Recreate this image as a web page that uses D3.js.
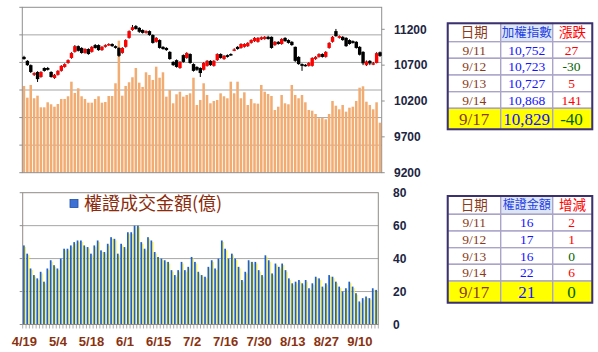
<!DOCTYPE html>
<html>
<head>
<meta charset="utf-8">
<script src="https://cdn.jsdelivr.net/npm/d3@7"></script>
<style>
  body { margin: 0; background: #fff; }
  svg { display: block; }
</style>
</head>
<body>
<div id="chart"></div>
<script>
// trading days 4/19 - 9/17
var dates = ["4/19","4/20","4/23","4/24","4/25","4/26","4/27","4/30",
  "5/2","5/3","5/4","5/7","5/8","5/9","5/10","5/11","5/14","5/15","5/16","5/17","5/18",
  "5/21","5/22","5/23","5/24","5/25","5/28","5/29","5/30","5/31",
  "6/1","6/4","6/5","6/6","6/7","6/8","6/11","6/12","6/13","6/14","6/15",
  "6/19","6/20","6/21","6/22","6/25","6/26","6/27","6/28","6/29",
  "7/2","7/3","7/4","7/5","7/6","7/9","7/10","7/11","7/12","7/13","7/16",
  "7/17","7/18","7/19","7/20","7/23","7/24","7/25","7/26","7/27","7/30","7/31",
  "8/1","8/2","8/3","8/6","8/7","8/8","8/9","8/10","8/13","8/14","8/15","8/16","8/17",
  "8/20","8/21","8/22","8/23","8/24","8/27","8/28","8/29","8/30","8/31",
  "9/3","9/4","9/5","9/6","9/7","9/10","9/11","9/12","9/13","9/14","9/17"];

// index candles
var openP = [10815,10760,10700,10565,10605,10535,10660,10660,10605,10520,
  10565,10620,10675,10730,10800,10885,10965,10940,10870,10925,
  10885,10980,10980,10910,10955,10980,10995,10965,10940,10870,
  10955,11080,11190,11245,11220,11190,11150,11175,11120,11025,
  11050,10955,10940,10885,10745,10770,10660,10840,10800,10855,
  10715,10675,10660,10635,10690,10760,10690,10770,10855,10785,
  10840,10855,10910,10955,10940,10955,10965,11010,11035,11025,
  11060,11065,11095,11095,10980,11025,10995,11080,11050,11025,
  10955,10815,10715,10705,10690,10690,10785,10815,10855,10815,
  10940,11025,11175,11080,11095,11080,11050,11035,11025,10955,
  10885,10700,10760,10720,10730,10880];
var closeP = [10785,10700,10605,10590,10505,10605,10620,10635,10535,10565,
  10620,10690,10715,10770,10870,10965,10900,10870,10925,10855,
  10955,10940,10910,10955,10980,10995,10965,10940,10830,10940,
  11050,11175,11230,11205,11165,11150,11175,11120,11010,11080,
  10940,10925,10910,10785,10700,10675,10745,10745,10870,10730,
  10620,10635,10590,10730,10760,10700,10760,10855,10800,10830,
  10815,10840,10920,10925,10995,10995,11010,11050,11080,11080,
  11090,11095,11065,10940,11025,10995,11065,11035,11010,10980,
  10760,10715,10690,10690,10730,10800,10815,10855,10815,10885,
  11010,11095,11105,11105,11050,10965,10995,11010,10940,10845,
  10725,10752,10723,10727,10868,10829];
var highP = [10830,10770,10710,10600,10615,10615,10670,10675,10615,10575,
  10630,10700,10725,10780,10880,10980,10975,10950,10935,10935,
  10965,10995,10990,10965,10990,11005,11005,10975,10950,10950,
  11060,11185,11260,11260,11230,11200,11185,11185,11130,11090,
  11060,10965,10950,10895,10755,10780,10755,10850,10880,10865,
  10725,10685,10670,10740,10770,10770,10770,10865,10865,10840,
  10850,10865,10935,10965,11005,11005,11020,11060,11090,11090,
  11100,11105,11110,11100,11035,11035,11075,11090,11060,11035,
  10960,10825,10725,10715,10740,10810,10825,10865,10865,10895,
  11020,11105,11205,11115,11105,11090,11060,11045,11035,10965,
  10895,10765,10770,10745,10880,10890];
var lowP = [10775,10690,10590,10550,10465,10525,10610,10625,10525,10510,
  10555,10610,10665,10720,10790,10875,10890,10860,10860,10845,
  10875,10930,10900,10900,10945,10970,10955,10930,10815,10860,
  10945,11070,11180,11195,11150,11140,11140,11110,11000,11015,
  10930,10915,10900,10775,10690,10665,10650,10735,10790,10720,
  10610,10620,10535,10625,10680,10690,10680,10760,10790,10775,
  10805,10830,10895,10915,10930,10945,10955,11000,11025,11015,
  11050,11055,11055,10930,10970,10985,10985,11025,11000,10970,
  10745,10705,10620,10680,10680,10680,10775,10805,10805,10805,
  10930,11015,11095,11070,11040,10955,10985,11000,10930,10835,
  10700,10690,10700,10700,10725,10815];

// market turnover (億)
var volume = [1573,1361,1591,1350,1397,1186,1186,1277,1241,1197,
  1246,1337,1337,1386,1651,1446,1531,1386,1337,1270,
  1270,1337,1386,1270,1282,1391,1391,1622,2395,1397,
  1573,1640,1731,1899,1633,1555,1821,1772,1682,1923,
  1723,1821,1379,1500,1259,1422,1469,1379,1409,1440,
  1723,1228,1319,1622,1409,1259,1301,1319,1440,1386,
  1350,1651,1440,1651,1350,1458,1228,1337,1259,1252,
  1591,1469,1428,1391,1137,1197,1409,1259,1241,1591,
  1409,1350,1409,1277,1137,1125,1065,987,998,969,
  1065,1301,1215,1150,1228,1107,1179,1197,1301,1542,
  1567,1288,1228,1150,1277,907];

// warrant turnover (億)
var warrant = [48,43,34,30,28,32,26,34,39,36,
  34,40,46,46,48,50,51,51,48,47,
  43,48,51,45,44,49,53,52,43,49,
  47,56,56,60,60,50,46,53,51,44,
  41,40,39,38,33,30,33,38,33,35,
  41,38,32,30,29,35,39,34,40,51,
  46,40,43,40,35,27,32,39,38,38,
  33,30,42,39,31,37,35,37,33,28,
  25,26,27,25,27,22,25,29,28,23,
  25,30,29,26,23,20,22,26,23,19,
  14,16,17,16,22,21];

var priceTicks = [9200, 9700, 10200, 10700, 11200];
var volTicks = [0, 500, 1000, 1500, 2000, 2500, 3000];
var warrantTicks = [0, 20, 40, 60, 80];

// tables
var tblDates = ["9/11", "9/12", "9/13", "9/14", "9/17"];
var tblIndex = ["10,752", "10,723", "10,727", "10,868", "10,829"];
var tblIndexChg = [27, -30, 5, 141, -40];
var tblWarrant = [16, 17, 16, 22, 21];
var tblWarrantChg = [2, 1, 0, 6, 0];

var svg = d3.select("#chart").append("svg")
    .attr("width", 598)
    .attr("height", 352);

var axisFont = "'Liberation Sans', Arial, sans-serif";
var gridColor = "#a6a6a6";

// ---------- top panel ----------
var p1 = {left: 22.3, right: 381.7, top: 7.3, bottom: 172.7};
var x1 = d3.scaleBand().domain(d3.range(dates.length)).range([p1.left, p1.right]);
var yV = d3.scaleLinear().domain([0, 3000]).range([p1.bottom, p1.top]);
var yP = d3.scaleLinear().domain([9200, 11200]).range([p1.bottom, 29.3]);

svg.append("g").selectAll("line")
    .data(volTicks.slice(1, -1))
    .enter().append("line")
    .attr("x1", p1.left).attr("x2", p1.right)
    .attr("y1", function(d) { return yV(d); })
    .attr("y2", function(d) { return yV(d); })
    .attr("stroke", gridColor).attr("stroke-width", 1);

// volume bars
svg.append("g").selectAll("rect")
    .data(volume)
    .enter().append("rect")
    .attr("x", function(d, i) { return x1(i) + 0.4; })
    .attr("width", 2.5)
    .attr("y", function(d) { return yV(d); })
    .attr("height", function(d) { return p1.bottom - yV(d); })
    .attr("fill", "#f2ab70");

// frame
svg.append("rect")
    .attr("x", p1.left).attr("y", p1.top)
    .attr("width", p1.right - p1.left).attr("height", p1.bottom - p1.top)
    .attr("fill", "none").attr("stroke", "#8f8f8f").attr("stroke-width", 1);

// left ticks
svg.append("g").selectAll("line")
    .data(volTicks)
    .enter().append("line")
    .attr("x1", p1.left - 3).attr("x2", p1.left)
    .attr("y1", function(d) { return yV(d); })
    .attr("y2", function(d) { return yV(d); })
    .attr("stroke", "#8f8f8f");

// candles
var candle = svg.append("g").selectAll("g")
    .data(d3.range(dates.length))
    .enter().append("g");
candle.append("line")
    .attr("x1", function(i) { return x1(i) + 1.7; })
    .attr("x2", function(i) { return x1(i) + 1.7; })
    .attr("y1", function(i) { return yP(highP[i]); })
    .attr("y2", function(i) { return yP(lowP[i]); })
    .attr("stroke", "#000").attr("stroke-width", 1);
candle.append("rect")
    .attr("x", function(i) { return x1(i); })
    .attr("width", 3.4)
    .attr("y", function(i) { return yP(Math.max(openP[i], closeP[i])); })
    .attr("height", function(i) { return Math.max(1.5, Math.abs(yP(openP[i]) - yP(closeP[i]))); })
    .attr("fill", function(i) { return closeP[i] >= openP[i] ? "#ff0000" : "#000000"; });

// right price axis
svg.append("g").selectAll("line")
    .data(priceTicks)
    .enter().append("line")
    .attr("x1", p1.right).attr("x2", p1.right + 3)
    .attr("y1", function(d) { return yP(d); })
    .attr("y2", function(d) { return yP(d); })
    .attr("stroke", "#8f8f8f");
svg.append("g").selectAll("text")
    .data(priceTicks)
    .enter().append("text")
    .attr("x", 394)
    .attr("y", function(d) { return yP(d); })
    .attr("dy", "0.36em")
    .attr("font-family", axisFont).attr("font-weight", "bold").attr("font-size", 12)
    .attr("fill", "#1c2541")
    .text(function(d) { return d; });

// ---------- bottom panel ----------
var p2 = {left: 22.7, right: 378.3, top: 192.7, bottom: 324.5};
var x2 = d3.scaleBand().domain(d3.range(dates.length)).range([p2.left, p2.right]);
var yW = d3.scaleLinear().domain([0, 80]).range([p2.bottom, p2.top]);

svg.append("g").selectAll("line")
    .data(warrantTicks.slice(1, -1))
    .enter().append("line")
    .attr("x1", p2.left).attr("x2", p2.right)
    .attr("y1", function(d) { return yW(d); })
    .attr("y2", function(d) { return yW(d); })
    .attr("stroke", gridColor).attr("stroke-width", 1);

// yellow shade then blue bar
svg.append("g").selectAll("rect")
    .data(warrant)
    .enter().append("rect")
    .attr("x", function(d, i) { return x2(i) + 2.0; })
    .attr("width", 1.3)
    .attr("y", function(d) { return yW(d) + 1.5; })
    .attr("height", function(d) { return p2.bottom - yW(d) - 1.5; })
    .attr("fill", "#fff24a");
svg.append("g").selectAll("rect")
    .data(warrant)
    .enter().append("rect")
    .attr("x", function(d, i) { return x2(i) + 0.3; })
    .attr("width", 1.7)
    .attr("y", function(d) { return yW(d); })
    .attr("height", function(d) { return p2.bottom - yW(d); })
    .attr("fill", "#1f5fc8");

svg.append("rect")
    .attr("x", p2.left).attr("y", p2.top)
    .attr("width", p2.right - p2.left).attr("height", p2.bottom - p2.top)
    .attr("fill", "none").attr("stroke", "#8f8a86").attr("stroke-width", 1);

svg.append("g").selectAll("line")
    .data(warrantTicks)
    .enter().append("line")
    .attr("x1", p2.left - 3).attr("x2", p2.left)
    .attr("y1", function(d) { return yW(d); })
    .attr("y2", function(d) { return yW(d); })
    .attr("stroke", "#8f8f8f");

// category ticks under the axis
svg.append("g").selectAll("line")
    .data(d3.range(dates.length + 1))
    .enter().append("line")
    .attr("x1", function(i) { return p2.left + i * x2.step(); })
    .attr("x2", function(i) { return p2.left + i * x2.step(); })
    .attr("y1", p2.bottom).attr("y2", p2.bottom + 4)
    .attr("stroke", "#9a9a9a").attr("stroke-width", 0.8);

svg.append("g").selectAll("text")
    .data(warrantTicks)
    .enter().append("text")
    .attr("x", 393)
    .attr("y", function(d) { return yW(d); })
    .attr("dy", "0.36em")
    .attr("font-family", axisFont).attr("font-weight", "bold").attr("font-size", 12)
    .attr("fill", "#1c2541")
    .text(function(d) { return d; });

// date labels every 10 trading days
svg.append("g").selectAll("text")
    .data(d3.range(0, dates.length, 10))
    .enter().append("text")
    .attr("x", function(i) { return x2(i) + x2.bandwidth() / 2; })
    .attr("y", 346)
    .attr("text-anchor", "middle")
    .attr("font-family", axisFont).attr("font-weight", "bold").attr("font-size", 13)
    .attr("fill", "#8a3210")
    .text(function(i) { return dates[i]; });

// legend
svg.append("rect")
    .attr("x", 70).attr("y", 199.5).attr("width", 8).attr("height", 8)
    .attr("fill", "#3d72d4").attr("stroke", "#1f4fa8").attr("stroke-width", 0.8);
svg.append("text")
    .attr("x", 84).attr("y", 210)
    .attr("font-family", "'Noto Sans CJK TC', sans-serif").attr("font-size", 18)
    .attr("fill", "#8b2b0b")
    .text("權證成交金額(億)");

// ---------- tables ----------
var cols = [447.7, 500.7, 552.7, 592.3];
function chgColor(v) { return v > 0 ? "#ff0000" : "#006400"; }

function drawTable(rows, header, values, changes, headSize) {
  var g = svg.append("g");
  var n = rows.length - 1;
  for (var r = 0; r < n; r++) {
    for (var c = 0; c < 3; c++) {
      var bg = "#ffffff";
      if (r === 0 && c === 1) bg = "#dce6f4";
      if (r === n - 1) bg = "#ffff00";
      g.append("rect")
        .attr("x", cols[c]).attr("y", rows[r])
        .attr("width", cols[c + 1] - cols[c]).attr("height", rows[r + 1] - rows[r])
        .attr("fill", bg).attr("stroke", "#aaa4c8").attr("stroke-width", 1.4);
    }
  }
  g.append("rect")
    .attr("x", cols[0]).attr("y", rows[0])
    .attr("width", cols[3] - cols[0]).attr("height", rows[n] - rows[0])
    .attr("fill", "none").attr("stroke", "#3b316e").attr("stroke-width", 2);

  var headColors = ["#8b3a1a", "#1f3fe6", "#ff0000"];
  header.forEach(function(h, c) {
    g.append("text")
      .attr("x", (cols[c] + cols[c + 1]) / 2)
      .attr("y", (rows[0] + rows[1]) / 2)
      .attr("dy", "0.36em")
      .attr("text-anchor", "middle")
      .attr("font-family", "'Noto Sans CJK TC', sans-serif")
      .attr("font-size", c === 1 ? headSize : 13.5)
      .attr("fill", headColors[c])
      .text(h);
  });

  for (var i = 0; i < tblDates.length; i++) {
    var cy = (rows[i + 1] + rows[i + 2]) / 2;
    var fs = i === tblDates.length - 1 ? 17 : 13.5;
    var cells = [tblDates[i], values[i], changes[i]];
    var colors = ["#8b3a1a", "#1414ff", chgColor(changes[i])];
    for (var c = 0; c < 3; c++) {
      g.append("text")
        .attr("x", (cols[c] + cols[c + 1]) / 2 + (c === 2 ? -1 : 0))
        .attr("y", cy)
        .attr("dy", "0.35em")
        .attr("text-anchor", "middle")
        .attr("font-family", "'Liberation Serif', 'Times New Roman', serif")
        .attr("font-size", fs)
        .attr("fill", colors[c])
        .text(cells[c]);
    }
  }
}

drawTable([23.3, 41.7, 58.3, 75, 91.7, 108.3, 129.3],
  ["日期", "加權指數", "漲跌"], tblIndex, tblIndexChg, 12.5);
drawTable([196, 214.3, 231, 247.7, 264.3, 281, 302.7],
  ["日期", "權證金額", "增減"], tblWarrant, tblWarrantChg, 12);
</script>
</body>
</html>
